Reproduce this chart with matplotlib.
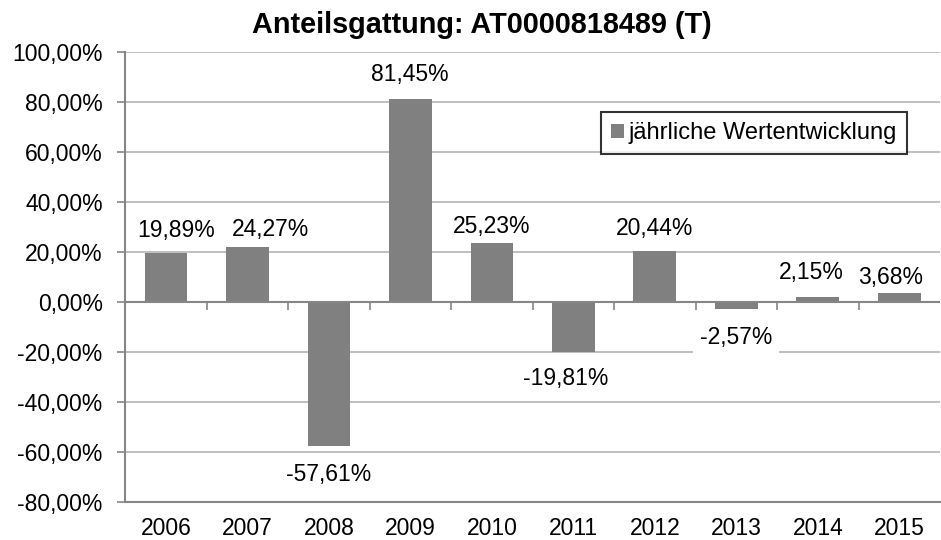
import matplotlib
matplotlib.use("Agg")
import matplotlib.pyplot as plt
from matplotlib.patches import Patch
from matplotlib.ticker import FuncFormatter

plt.rcParams['font.family'] = ['Liberation Sans', 'DejaVu Sans']

years = ['2006', '2007', '2008', '2009', '2010', '2011', '2012', '2013', '2014', '2015']
bar_values = [19.89, 22.2, -57.61, 81.45, 23.8, -19.81, 20.44, -2.57, 2.15, 3.68]
value_labels = ['19,89%', '24,27%', '-57,61%', '81,45%', '25,23%',
                '-19,81%', '20,44%', '-2,57%', '2,15%', '3,68%']
series_name = 'jährliche Wertentwicklung'
title = 'Anteilsgattung: AT0000818489 (T)'

# label offsets in pixels (layout)
label_dx = [10, 23, 0, -1, 0, -8, 0, 0, -6, -9]
label_dy = [22, 17, -28, 24, 16, -27, 23, -29, 24, 16]

W, H = 941, 540
fig = plt.figure(figsize=(W / 100, H / 100), dpi=100)
ax = fig.add_axes([125.3 / W, 1 - 502.3 / H, (940 - 125.3) / W, (502.3 - 52.3) / H])

bar_color = '#808080'
axis_gray = '#868686'
grid_gray = '#b4b4b4'
FS = 16.5

x = list(range(len(years)))
ax.bar(x, bar_values, width=0.525, color=bar_color, zorder=2)

ax.set_xlim(-0.5, len(years) - 0.5)
ax.set_ylim(-80, 100)
ax.set_yticks(list(range(-80, 101, 20)))
ax.yaxis.set_major_formatter(FuncFormatter(lambda v, p: f"{v:.2f}%".replace('.', ',')))
ax.grid(axis='y', color=grid_gray, linewidth=1.2, zorder=0)
ax.set_axisbelow(True)

for s in ['top', 'right']:
    ax.spines[s].set_visible(False)
ax.spines['left'].set_color(axis_gray)
ax.spines['left'].set_linewidth(1.5)
ax.spines['bottom'].set_color(axis_gray)
ax.spines['bottom'].set_linewidth(1.5)

ax.tick_params(axis='y', direction='out', length=5.8, width=1.2, color=axis_gray,
               labelsize=FS, pad=10.5)
ax.set_xticks(x)
ax.set_xticklabels(years)
ax.tick_params(axis='x', length=0, labelsize=FS, pad=10.5)

# zero line with category-boundary tick marks
ax.axhline(0, color=axis_gray, linewidth=1.5, zorder=3)
bounds = [i + 0.5 for i in range(len(years) - 1)]
ax.plot(bounds, [0] * len(bounds), linestyle='none', marker=3, markersize=5.5,
        markeredgewidth=1.2, color=axis_gray, zorder=3, clip_on=False)

for i, (v, lab) in enumerate(zip(bar_values, value_labels)):
    kw = {}
    if years[i] == '2013':
        kw['bbox'] = dict(boxstyle='square,pad=0.3', fc='white', ec='none')
    ax.annotate(lab, xy=(i, v), xytext=(label_dx[i], label_dy[i]),
                textcoords='offset pixels', ha='center', va='center',
                fontsize=FS, color='black', zorder=5, **kw)

fig.text(481.7 / W, 1 - 33.3 / H, title, ha='center', va='baseline',
         fontsize=20.8, fontweight='bold')

leg = fig.legend(handles=[Patch(facecolor=bar_color, edgecolor='none', label=series_name)],
                 loc='center', bbox_to_anchor=((594 + 914) / 2 / W, 1 - 133.4 / H),
                 frameon=True, fancybox=False, fontsize=17, handlelength=0.55,
                 handleheight=0.55, handletextpad=0.2, borderpad=0.42,
                 borderaxespad=0)
leg.get_frame().set_edgecolor('black')
leg.get_frame().set_linewidth(1.5)

fig.savefig('out.png', dpi=100)
